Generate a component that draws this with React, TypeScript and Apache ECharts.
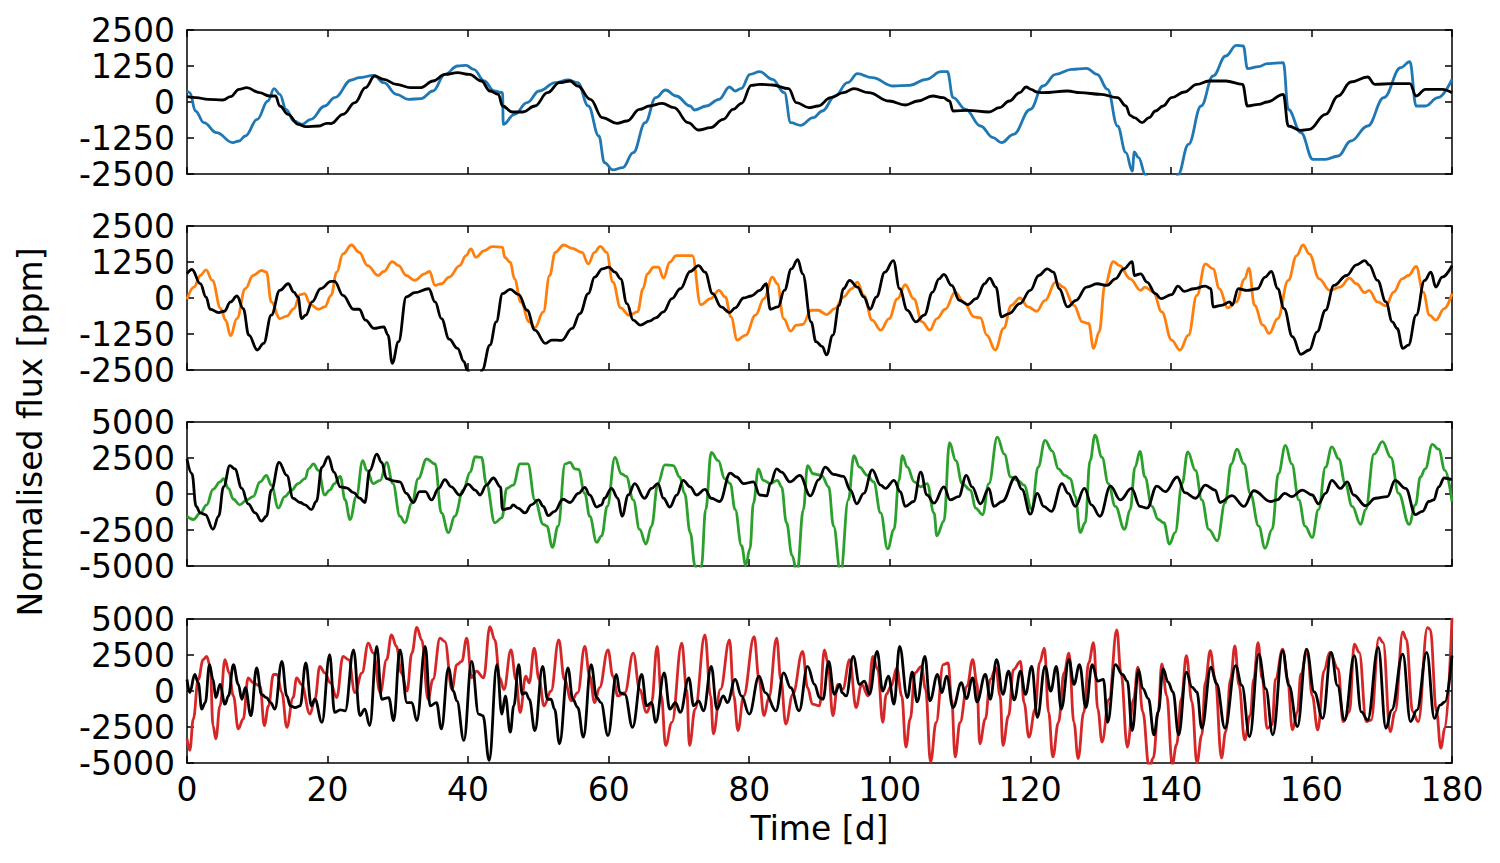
import React, { useEffect, useRef } from "react";
import * as echarts from "echarts";

type P = [number, number][];

// ---------- Panel 1 ----------
const blue1: P = [[0,382],[0.4,324],[1.2,-312],[2.4,-717],[4.2,-1064],[6.5,-1411],[7.4,-1354],[8.3,-1180],[10,-602],[11.5,35],[12.4,463],[13.2,266],[14.1,-255],[15.2,-660],[16.4,-775],[17.6,-602],[19.6,-139],[21,150],[23.4,764],[24.5,845],[26.6,926],[28,671],[29.8,266],[31.5,93],[33.3,116],[35,382],[36.7,960],[38.5,1250],[39.7,1273],[40.8,1134],[42.3,729],[43.7,382],[44.9,324],[45.0,-775],[46.6,-428],[48.4,-23],[50.1,382],[52.4,671],[54.2,764],[55.6,671],[57.1,-139],[58.6,-1180],[59.4,-2106],[60.6,-2360],[62,-2280],[63.5,-1759],[65.2,-717],[66.7,150],[68.1,417],[69.6,208],[71.6,-139],[72.2,-278],[73.9,-139],[75.7,93],[77.2,521],[78,382],[78.9,475],[80.1,960],[81.5,1053],[83.3,787],[85,324],[85.9,-717],[87.3,-810],[89.1,-544],[90.4,-312],[92.2,208],[94,671],[95.4,983],[97.5,845],[100.5,555],[102.8,579],[105.2,787],[107.3,1053],[108.2,1053],[109,150],[110.8,-255],[112.9,-833],[114.7,-1238],[115.9,-1411],[117.6,-1122],[120,-255],[121.8,555],[123.6,960],[125.9,1134],[128,1169],[129.5,960],[131,440],[132.4,-833],[133.6,-1759],[134.5,-2395],[134.8,-1736],[135.4,-1932],[136.4,-2534],[137.5,-3200],[139,-3500],[140.3,-3000],[141,-2534],[142.5,-1470],[144.3,-139],[146,902],[147.8,1597],[149.3,1967],[150.3,1944],[150.9,1157],[152.5,1227],[153.7,1331],[156,1366],[156.7,-255],[158.5,-1064],[160.2,-1990],[162,-1990],[163.8,-1875],[165.6,-1354],[168,-833],[170.3,150],[172.7,1192],[174,1400],[174.9,-139],[176.2,-139],[178,150],[180,787]];

const black1: P = [[0,185],[1.3,150],[3,93],[5.1,69],[6.2,185],[7.4,440],[8.5,498],[10.3,324],[11.7,208],[12.6,208],[13.2,-139],[14.4,-428],[15.8,-775],[16.9,-856],[18.7,-833],[19.9,-740],[20.5,-750],[22.2,-428],[23.9,-23],[25.4,498],[26.7,902],[28,787],[29.8,613],[31.8,498],[33.3,498],[35,729],[36.7,960],[38.5,1018],[40.2,960],[41.9,729],[43.1,382],[44.3,266],[44.9,-139],[46.3,-347],[47.8,-347],[49.5,-139],[51.3,324],[53,671],[54.5,729],[55.6,555],[57.4,93],[59.1,-544],[61.2,-740],[62.6,-660],[64.4,-255],[65.8,-139],[67.6,-46],[69.3,-197],[71.3,-717],[72.8,-972],[74.5,-891],[76.3,-602],[77.7,-255],[78.9,-46],[80.3,579],[81.5,613],[83.3,590],[85.6,463],[86.7,-23],[88.5,-197],[89.8,-139],[91.6,150],[93.4,324],[94.9,463],[97,324],[99.9,35],[102.2,-104],[104,35],[106.1,208],[107.6,150],[108.5,35],[109,-312],[111.1,-289],[114.1,-347],[115.6,-197],[117,35],[118.5,324],[119.4,521],[120.1,440],[120.9,347],[121.8,324],[125.3,382],[127.1,324],[130.1,266],[132.4,150],[133.6,-139],[134.2,-463],[134.8,-544],[135.9,-717],[136.9,-544],[137.8,-312],[138.9,-139],[140.1,150],[141.9,347],[143.7,613],[145.4,729],[147.8,729],[150.2,613],[150.9,-139],[152.5,-81],[153.7,0],[156,266],[156.7,-833],[158.5,-984],[159.7,-949],[162,-428],[163.8,208],[165.6,694],[168,868],[169,613],[171.5,637],[174,637],[174.9,208],[176.2,440],[178.6,440],[180,324]];

// ---------- Panel 2 ----------
const orange2: P = [[0,-46],[1,380],[1.9,782],[2.7,978],[3.6,610],[4.8,-368],[5.5,-770],[6.2,-1311],[7.1,-713],[8.3,322],[9.4,782],[10.6,955],[11.3,897],[12,-138],[13.2,-713],[14.2,-632],[15.2,-368],[16.1,115],[16.7,150],[17.6,-230],[18.7,-391],[19.6,-310],[20.5,92],[21.3,897],[22.2,1530],[23.4,1840],[24.5,1587],[25.7,1127],[27.2,782],[28,920],[29.2,1265],[30.1,1127],[31.2,782],[32.4,610],[33.8,840],[34.5,920],[35.3,437],[36.2,495],[37.3,725],[38.8,1127],[39.7,1472],[40.4,1702],[41.1,1415],[42.3,1645],[43.4,1783],[44.9,1760],[45.2,1415],[46,1242],[46.6,667],[47.5,-138],[48.7,-828],[49.5,-1035],[50.7,-483],[51.6,782],[52.4,1587],[53.6,1840],[54.8,1725],[56.2,1587],[57.1,1185],[58,1587],[58.8,1794],[59.7,1587],[60.6,552],[61.7,-345],[62.9,-598],[64.1,-483],[64.9,322],[65.5,840],[66.4,1070],[67.1,1070],[67.8,690],[68.7,1242],[69.6,1472],[71.9,1472],[73.1,-230],[74.5,-23],[75.7,265],[76.6,35],[77.4,-655],[78.3,-1460],[79.5,-1288],[80.9,-598],[82.1,-23],[83.3,725],[84,495],[84.9,-713],[85.9,-1150],[86.7,-943],[87.6,-920],[88.8,-425],[89.8,-425],[91,-575],[92.2,-368],[93.4,35],[94.6,322],[95.4,552],[96.3,92],[97.5,-770],[98.7,-1115],[99.9,-713],[101.1,-23],[102.2,460],[103.4,-23],[104.6,-828],[105.7,-1115],[106.7,-713],[107.9,-391],[109.3,207],[110.5,-138],[112,-655],[112.9,-690],[113.8,-1288],[115,-1805],[116.2,-1058],[117.3,-253],[118.5,0],[119.7,-310],[120.9,-460],[122.1,-80],[123.6,552],[124.7,380],[126.2,-253],[127.4,-828],[128.3,-885],[129,-1748],[129.8,-1173],[130.6,437],[131.8,1265],[132.7,1127],[134.2,667],[135.7,265],[136.3,380],[137.5,207],[138.7,-483],[140.1,-1460],[141.3,-1805],[142.5,-1288],[143.7,92],[144.9,1185],[146,1012],[146.9,322],[148.1,-345],[149.3,-138],[150.5,667],[151.1,1035],[151.9,-253],[153.1,-943],[154,-1230],[155.2,-713],[156.7,610],[157.9,1472],[158.8,1840],[159.7,1530],[161.1,667],[162.6,265],[164.1,380],[165.4,690],[166.4,495],[167.6,184],[168.2,265],[169.4,-138],[170.6,-276],[171.7,207],[172.9,667],[173.8,782],[174.9,1093],[175.9,207],[176.8,-598],[177.7,-770],[178.9,-368],[180,150]];

const black2: P = [[0,840],[0.7,990],[1.9,495],[2.7,35],[3.3,-391],[4.5,-506],[5.3,-460],[6.2,-138],[7.1,69],[8,-368],[8.8,-1288],[10,-1805],[10.9,-1575],[12,-598],[13.2,265],[14.4,495],[15.2,207],[15.8,35],[16.3,-713],[16.9,-598],[17.8,-138],[19,322],[20.5,575],[21,575],[22.2,92],[23.7,-391],[24.5,-391],[25.4,-770],[26.6,-1058],[28,-1000],[28.6,-1288],[29.2,-2265],[30.1,-1518],[31.2,35],[32.4,184],[34.4,322],[35.3,-138],[36.2,-713],[37.3,-1426],[38.5,-1748],[39.4,-2208],[39.9,-2500],[40.6,-2950],[41.4,-2950],[42,-2500],[43.1,-1633],[44,-828],[44.9,150],[46,299],[47.2,115],[48.4,-425],[49.5,-1115],[51,-1575],[51.9,-1460],[53.3,-1472],[54.8,-1058],[55.9,-540],[57.1,150],[58,725],[59.1,1012],[60,1070],[60.9,897],[61.7,667],[62.6,-196],[63.5,-770],[64.5,-943],[65.8,-805],[66.7,-690],[67.8,-483],[69,-23],[70.2,322],[71.6,920],[72.8,1127],[73.7,897],[74.8,150],[76,-310],[77.2,-506],[78,-345],[79.2,0],[80.3,69],[81.5,265],[82.4,495],[83,-391],[84.1,-310],[85,265],[86,1012],[86.9,1334],[87.6,840],[88.8,-828],[89.5,-1518],[90.4,-1690],[91,-1978],[91.9,-1288],[92.8,-253],[93.4,322],[94.3,610],[95.4,380],[96.3,35],[97.2,-391],[98.1,35],[99.3,897],[100.5,1300],[101.4,322],[102.5,-425],[103.7,-828],[104.9,-598],[106.1,207],[107,667],[107.7,817],[108.8,437],[109.9,-80],[111.1,-230],[112.3,-23],[113.5,495],[114.2,690],[115.1,380],[115.9,-655],[117,-540],[118.5,-196],[120,265],[121.2,782],[122.4,1012],[123.3,897],[124.1,322],[125.3,-310],[126.5,-80],[128,380],[129.5,495],[130.9,437],[132.1,667],[133.3,1012],[134.5,1265],[134.8,782],[135.7,840],[136.6,552],[137.8,150],[138.6,-23],[140.1,115],[141,414],[141.9,230],[143.3,322],[144.9,414],[145.7,322],[146,-310],[147.2,-253],[148.4,-138],[148.7,-250],[149.6,322],[150.8,265],[152.3,322],[153.4,725],[154.3,920],[155.2,322],[156.1,-368],[157.3,-1345],[158.5,-1955],[159.7,-1805],[160.8,-1173],[162,-425],[163.2,437],[165,782],[166.4,1150],[167.6,1300],[168.2,1150],[169.4,610],[170.6,-138],[171.5,-828],[172.2,-1058],[173,-1748],[173.8,-1633],[174.9,-598],[176.1,610],[177,897],[177.7,380],[178.6,725],[180,1127]];

// ---------- Panel 3 ----------
const green3: P = [[0,-1544],[0.9,-1771],[1.9,-1317],[2.8,-749],[3.7,318],[4.7,840],[5.2,1067],[5.9,386],[6.6,-363],[7.5,-749],[8.5,-409],[9.4,-182],[10.4,840],[11.3,1294],[12,613],[13,-976],[13.9,-182],[14.9,272],[15.8,726],[16.8,1067],[17.3,1748],[18,2088],[18.7,1634],[19.6,-68],[20.3,272],[21,726],[21.8,1226],[22.5,-409],[23.2,-1771],[24.1,-182],[25,2315],[25.6,1634],[26.5,726],[27.5,953],[28.4,2202],[29.3,726],[30.3,-1544],[31,-1998],[32,-636],[32.9,1067],[34.1,2429],[35.3,2088],[36.2,-1317],[37.2,-2679],[38.1,-1544],[39.3,272],[40.3,1521],[41,2588],[41.9,2542],[42.6,726],[43.8,-1998],[44.8,-1657],[45.5,386],[46.4,613],[47.4,2088],[48.5,2088],[49.5,-409],[50.7,-2111],[51.2,-2225],[52,-3700],[52.8,-2225],[53.8,2088],[54.5,2202],[55.2,1748],[55.7,1700],[56.6,45],[57.3,-1544],[58.3,-3360],[59,-2906],[59.8,-863],[60.9,2542],[61.8,1407],[62.5,1226],[63.5,-409],[64.4,-2452],[65.3,-3473],[66.1,-2225],[67,726],[68,2020],[69.2,1975],[70.1,1180],[70.8,45],[71.6,-2679],[72.3,-5000],[72.7,-5700],[73.2,-5000],[73.8,-1090],[74.6,2883],[75.6,2315],[76.5,1067],[77.3,726],[78,-1090],[78.9,-3587],[79.5,-4950],[80.1,-3813],[80.6,-636],[81.3,1748],[82,953],[83,726],[84,953],[84.6,499],[85.3,-1998],[86.1,-4268],[86.8,-5500],[87.7,-1090],[88.3,1975],[89.1,1407],[90.3,1294],[91.3,499],[92,-2225],[93,-5500],[94.1,-409],[94.9,2656],[95.7,1861],[96.8,1294],[97.7,840],[98.7,-1317],[99.7,-3813],[100.6,-2452],[101.3,953],[101.8,2656],[102.5,1861],[103.5,840],[104.4,499],[105.3,726],[106.3,-1317],[106.7,-2906],[107.7,-1884],[108.5,3564],[109.4,2315],[110.3,726],[111.5,272],[112.2,-976],[113.2,-1430],[114.1,726],[115.3,3950],[116.3,2769],[117.2,1180],[118.2,953],[119.1,613],[120.2,-1090],[121.1,1861],[122.1,3723],[123.1,2996],[124,1748],[124.9,1294],[125.7,1067],[126.4,-182],[127.1,-2679],[127.8,-1998],[128.5,2315],[129.2,4086],[130.2,2542],[131.1,726],[132.1,-863],[133.4,-2452],[134.2,-1090],[134.9,1861],[135.6,2951],[136.3,1180],[137.3,-863],[138.2,-1771],[139,-1998],[139.8,-3473],[140.6,-2679],[141.6,726],[142.4,2928],[143.5,1634],[144.4,-409],[145.4,-2452],[146.6,-3246],[147.7,-636],[148.6,2088],[149.4,3110],[150.4,2088],[151.3,45],[152.5,-2225],[153.4,-3768],[154.4,-2452],[155.3,1407],[156.3,3382],[157.2,2088],[158.2,-409],[159.1,-2225],[160.1,-3019],[161,-1090],[162,1861],[162.9,3269],[163.9,2429],[164.8,726],[165.8,-863],[167,-2111],[167.7,-1090],[168.9,2769],[170.1,3632],[171.3,2542],[172.4,45],[173.9,-2111],[174.8,-749],[175.5,1180],[176.2,1748],[177.2,3450],[178.1,3110],[179,1634],[180,-522]];

const black3: P = [[0,2429],[0.7,1407],[1.3,-863],[1.9,-1317],[2.6,-1430],[3.7,-2452],[4.5,-1544],[5.2,499],[6.1,1975],[6.8,1748],[7.8,386],[8.7,-681],[9.7,-1317],[10.6,-1884],[11.3,-1544],[12,272],[13.1,2202],[14.2,1294],[15.1,-295],[16.1,-590],[16.8,-749],[17.7,-1090],[18.4,-522],[19.2,1861],[20.1,2588],[20.9,1521],[21.8,499],[22.7,431],[23.7,91],[24.6,-295],[25.3,-590],[26,1634],[27,2769],[27.7,2202],[28.4,1067],[29.4,908],[30.3,840],[31.2,45],[32.2,-590],[33.1,159],[33.9,159],[34.8,-409],[35.8,386],[36.7,999],[37.6,499],[38.8,-68],[40,681],[41,272],[41.7,-68],[42.6,613],[43.6,1112],[44.6,499],[44.9,-1090],[46,-976],[46.4,-749],[47.1,-976],[48.1,-1317],[49,-749],[50,-409],[50.7,-863],[51.4,-1498],[52.3,-1203],[53.5,-363],[54.5,-590],[55.7,45],[56.6,454],[57.3,-68],[58.3,-908],[59,-749],[59.4,-295],[60.4,386],[61.3,-295],[61.9,-1544],[62.8,-68],[63.7,726],[65.1,-295],[66.1,386],[67,726],[67.8,-295],[68.7,-908],[69.7,-68],[70.6,953],[71.6,499],[72.5,-68],[73.7,318],[74.6,-295],[75.8,-522],[77.3,1453],[78.2,1180],[79.2,726],[80.6,840],[81.5,-68],[82.5,-136],[83,726],[83.9,1748],[84.6,1521],[85.8,840],[87.2,1294],[88.7,-136],[89.9,999],[90.8,1861],[92,1362],[93.4,1226],[94.4,272],[95.3,-681],[96.3,45],[97.5,1680],[98.7,613],[99.4,386],[100.6,953],[101.5,159],[102.2,-863],[103.4,-522],[104.4,1521],[105.3,-68],[106.3,-636],[107.7,499],[108.6,-409],[109.8,-182],[110.9,1294],[111.7,499],[112.9,-681],[114.1,386],[114.8,-863],[116,-522],[117.9,1180],[118.8,318],[120,-1400],[121,45],[121.9,-863],[123,-1203],[124.5,726],[125.4,45],[126.4,-863],[127.7,386],[128.7,-749],[129.9,-1544],[131.4,545],[132.8,-409],[134.4,386],[135.6,-863],[136.6,-976],[138,545],[139.2,159],[140.9,1180],[142,91],[143.5,-295],[144.9,613],[146.3,272],[147,-590],[148.7,-113],[150.4,-863],[151.8,227],[154.2,-522],[155.1,-409],[156.2,45],[157.2,-182],[158.7,272],[160.1,-68],[161,-681],[162,45],[162.9,953],[164.1,386],[165.1,840],[166,-68],[167.7,-817],[169.1,-295],[170.8,-182],[171.9,953],[173.4,386],[174.8,-1430],[175.8,-1203],[176.7,-522],[177.4,-409],[178.1,499],[178.9,1112],[180,999]];

// ---------- Panel 4 ----------
const red4: P = [[0,-3320],[0.4,-4122],[0.9,-1946],[1.6,801],[2.3,2175],[2.8,2404],[3.3,1717],[3.7,-2404],[4.1,-3320],[4.7,-1030],[5.4,2175],[6,1259],[6.6,-343],[7.3,-2633],[8,-1946],[8.7,916],[9.4,572],[10.4,343],[11,-2404],[11.6,-1030],[12.3,1145],[12.8,1145],[13.5,-114],[14.2,-2519],[15.1,-458],[15.6,916],[16.3,458],[17.5,-1603],[18.2,-572],[18.9,1717],[19.6,1259],[20.4,572],[21.3,-458],[22.2,2404],[23,2175],[23.9,-114],[24.9,1259],[25.8,3320],[26.5,2633],[27.5,-114],[28.4,2175],[29.1,3893],[29.8,3091],[30.5,1259],[31.3,0],[32,2633],[32.7,4420],[33.4,3550],[34.3,-572],[35,801],[36,3664],[36.7,3435],[37.7,114],[38.4,1832],[39.1,2061],[39.8,3664],[40.5,916],[41.2,1374],[42.2,916],[43.1,4466],[43.8,3550],[44.5,916],[45.1,114],[46.1,2862],[46.8,801],[47.4,-1488],[48.2,1030],[48.7,572],[49.4,2977],[50.1,801],[50.8,-1030],[51.8,0],[52.9,3550],[53.7,801],[54.7,-687],[55.6,-114],[56.6,3091],[57.3,1030],[58,-801],[58.7,229],[59.9,2862],[60.6,1030],[61.3,-343],[62.3,-114],[63.5,2633],[64.4,114],[65.4,-1488],[66.1,-801],[66.9,3091],[67.5,-343],[68.1,-3779],[69,-2175],[70.4,3320],[71.1,114],[71.5,-3779],[72.3,-1259],[73.7,3893],[74.5,-343],[74.9,-2977],[75.9,114],[77.2,3550],[77.8,-343],[78.4,-2748],[79.2,-343],[80.7,3779],[81.4,801],[82.1,-1717],[82.8,-458],[83.9,3664],[84.5,801],[85.2,-2290],[86.2,-229],[87.6,2748],[88.3,229],[89,-916],[90,-1030],[90.7,2862],[91.2,1946],[91.9,-1717],[92.6,458],[93.3,114],[94.3,2175],[95.2,-1145],[96,458],[96.9,-343],[97.6,2404],[98.3,1488],[99,-2175],[99.5,-229],[100.2,343],[101,1603],[101.7,-343],[102.3,-3893],[102.9,-1946],[103.6,1259],[104.5,1717],[105.1,114],[105.8,-4924],[106.6,-2175],[107.6,1832],[108.3,1946],[108.8,-572],[109.3,-4580],[110,-2175],[111,343],[111.8,2175],[112.4,572],[112.8,-3664],[113.6,-1946],[114.3,801],[115.1,1603],[115.7,-343],[116.1,-3779],[116.9,-1717],[117.6,1488],[118.6,2061],[119.1,-801],[119.8,-3206],[120.7,-1259],[121.3,1946],[122,2977],[122.6,-1488],[123.2,-4580],[124,-2175],[124.8,1259],[125.5,2633],[126.2,-2175],[126.8,-4694],[127.6,-1488],[128.3,1946],[129,3366],[129.6,-1259],[130.2,-3550],[131.2,-572],[132.3,4237],[132.9,1259],[133.8,-3893],[134.7,-572],[135.3,1649],[136,-1443],[136.9,-5300],[137.5,-4649],[138.2,-1443],[138.7,1878],[139.4,-298],[140.2,-5100],[140.8,-3733],[141.5,-527],[142.2,2450],[143,-756],[143.7,-5000],[144.4,-3046],[144.9,618],[145.6,2794],[146.3,847],[147.2,-4649],[147.8,-2817],[148.5,847],[149.1,3137],[149.7,389],[150.5,-3389],[151.3,-1672],[151.8,847],[152.4,3366],[153,847],[153.7,-2588],[154.4,-2359],[154.9,847],[155.9,2908],[156.6,847],[157.3,-2702],[158,-1443],[158.5,1191],[159.4,2794],[160.1,-298],[160.9,-2702],[161.8,1420],[162.6,2679],[163.8,1534],[164.5,-2130],[165.4,-1443],[166.1,3252],[166.8,2679],[167.8,-2130],[168.5,-2015],[169.6,3710],[170.2,3366],[171.2,-2817],[171.9,-1443],[173,4099],[173.5,3595],[174.4,-1443],[175.2,-2130],[176.5,4397],[176.9,4282],[177.8,-1443],[178.4,-3962],[179,-2588],[180,5084]];

const black4: P = [[0,801],[0.4,-114],[1.1,1145],[1.6,572],[2.1,-1259],[2.6,-801],[3.2,1832],[3.7,801],[4.1,-458],[4.7,458],[5.4,-916],[5.9,-343],[6.6,1832],[7.3,458],[7.8,-572],[8.3,229],[9.1,-1717],[9.9,1603],[10.6,-229],[11.3,-458],[11.9,-801],[12.5,-1259],[13.5,2061],[14.2,-343],[14.7,-1030],[15.4,-1145],[16.1,-1030],[16.9,1946],[17.7,-1030],[18.2,-572],[19.2,-2175],[20.3,2519],[21,-1488],[21.8,-1305],[22.5,-1374],[23.7,2862],[24.6,-1717],[25.3,-1259],[26,-2404],[27,3091],[27.7,-572],[28.7,-458],[29.4,-2061],[30.3,2862],[31.3,-801],[32,-801],[32.7,-2061],[33.9,3091],[34.6,-1030],[35.5,-801],[36.2,-2633],[37.2,1603],[37.9,0],[38.4,-687],[39.4,-3435],[40.5,2061],[41.5,-1603],[42.1,-1717],[43,-4809],[44.1,1832],[44.8,-1603],[45.3,-343],[46,-2862],[46.5,-1030],[47.2,1832],[47.7,-229],[48.2,-114],[48.7,-572],[49.5,-2748],[50.6,1717],[51.3,-572],[51.8,-572],[52.3,-1259],[53,-3664],[54.2,1603],[54.9,-572],[55.6,-1145],[56.4,-3206],[57.5,1832],[58.3,-458],[58.9,-801],[59.9,-3091],[61.1,1145],[61.6,-114],[62.3,-229],[63.4,-2519],[64.7,1145],[65.4,-1030],[66.1,-801],[66.7,-2175],[67.9,1259],[68.7,-1259],[69.5,-801],[70.2,-1488],[71.4,916],[72.1,-1030],[72.8,-687],[73.5,-1374],[74.6,1717],[75.4,-1259],[76.3,-343],[76.9,-801],[78,801],[78.9,-343],[80,-1603],[81.4,1030],[82.3,-114],[83.8,-1374],[84.9,1259],[85.9,229],[87.1,-1374],[88.3,1717],[89.3,458],[90,-458],[90.5,-572],[91.3,2061],[92.1,-229],[92.9,458],[93.2,-114],[93.8,-343],[94.8,2404],[95.7,458],[96.4,687],[97.1,-229],[98.2,2748],[99,0],[99.8,1030],[100.6,-916],[101.4,3091],[102.5,-458],[103.2,1305],[103.9,-756],[105,2404],[105.7,-687],[106.8,1145],[107.4,-114],[108.1,1030],[109,-1145],[110.2,572],[110.9,-527],[111.8,916],[112.4,-756],[113.6,1145],[114.3,-572],[115.2,2175],[116.1,-229],[116.9,1374],[117.7,-618],[118.6,1374],[119.3,-229],[120.2,1717],[121,-1832],[122.1,1717],[122.9,0],[123.7,1717],[124.4,-1259],[125.5,2175],[126.2,458],[127,1832],[127.9,-1145],[128.8,1832],[129.6,687],[130.4,801],[131,-2175],[132.1,1832],[133.1,1145],[133.8,687],[134.5,-2748],[135.4,1488],[136,160],[136.8,-527],[137.6,-3046],[138.2,-1443],[138.9,1534],[139.6,618],[140.3,-69],[141.1,-3046],[142.2,1305],[143,275],[143.7,-69],[144.4,-2588],[145.7,1649],[146.5,504],[147.7,-2588],[149.2,1763],[150.1,389],[151.2,-3160],[152.5,2565],[153.5,160],[154.5,-3046],[155.9,2794],[156.8,389],[158,-2473],[159.3,2908],[160.4,-69],[161.6,-1901],[162.8,2679],[163.7,389],[164.7,-2015],[166.1,2450],[167.1,-1443],[168,-2015],[169.5,3023],[170.6,-2588],[171.4,-1328],[173,2565],[174.1,-2130],[175,-1328],[176.4,2679],[177.5,-1901],[178.3,-985],[179,-756],[180,2450]];

// ---------- Axes ----------
const xMin = 0;
const xMax = 180;
const xStep = 20;
const ySmall = { min: -2500, max: 2500, step: 1250 };
const yLarge = { min: -5000, max: 5000, step: 2500 };

const xLabel = "Time [d]";
const yLabel = "Normalised flux [ppm]";

const panels = [
  { colored: blue1, color: "#1f77b4", black: black1, y: ySmall },
  { colored: orange2, color: "#ff7f0e", black: black2, y: ySmall },
  { colored: green3, color: "#2ca02c", black: black3, y: yLarge },
  { colored: red4, color: "#d62728", black: black4, y: yLarge },
];

const FONT = "DejaVu Sans";
const PANEL_TOPS = [30, 226, 422, 619];

function buildOption() {
  const grid = panels.map((_, i) => ({
    left: 187,
    top: PANEL_TOPS[i],
    width: 1265,
    height: 144,
  }));
  const line = { show: true, onZero: false, lineStyle: { color: "#000", width: 1.5 } };
  const tick = { show: true, inside: true, length: 7, lineStyle: { color: "#000", width: 1.5 } };
  const plain = (v: number) => String(v);
  const xAxis: any[] = [];
  const yAxis: any[] = [];
  const series: any[] = [];
  panels.forEach((p, i) => {
    const xc = {
      type: "value",
      gridIndex: i,
      min: xMin,
      max: xMax,
      interval: xStep,
      splitLine: { show: false },
      axisLine: line,
      axisTick: tick,
    };
    xAxis.push({
      ...xc,
      position: "bottom",
      axisLabel: {
        show: i === panels.length - 1,
        color: "#000",
        fontSize: 33,
        fontFamily: FONT,
        margin: 10,
        formatter: plain,
      },
    });
    xAxis.push({ ...xc, position: "top", axisLabel: { show: false } });
    const yc = {
      type: "value",
      gridIndex: i,
      min: p.y.min,
      max: p.y.max,
      interval: p.y.step,
      splitLine: { show: false },
      axisLine: line,
      axisTick: tick,
    };
    yAxis.push({
      ...yc,
      position: "left",
      axisLabel: {
        show: true,
        color: "#000",
        fontSize: 33,
        fontFamily: FONT,
        margin: 12,
        formatter: plain,
      },
    });
    yAxis.push({ ...yc, position: "right", axisLabel: { show: false } });

    const common = {
      type: "line",
      xAxisIndex: 2 * i,
      yAxisIndex: 2 * i,
      showSymbol: false,
      symbol: "none",
      smooth: 0.4,
      smoothMonotone: "x",
      clip: true,
      silent: true,
    };
    series.push({ ...common, data: p.colored, lineStyle: { color: p.color, width: 2.8 }, z: 2 });
    series.push({ ...common, data: p.black, lineStyle: { color: "#000", width: 2.8 }, z: 3 });
  });

  return {
    animation: false,
    backgroundColor: "#fff",
    grid,
    xAxis,
    yAxis,
    series,
    graphic: [
      {
        type: "text",
        x: 819.5,
        y: 828,
        style: {
          text: xLabel,
          fontSize: 33,
          fontFamily: FONT,
          fill: "#000",
          align: "center",
          verticalAlign: "middle",
        },
      },
      {
        type: "text",
        x: 30,
        y: 432,
        rotation: Math.PI / 2,
        style: {
          text: yLabel,
          fontSize: 33,
          fontFamily: FONT,
          fill: "#000",
          align: "center",
          verticalAlign: "middle",
        },
      },
    ],
  };
}

export default function App() {
  const ref = useRef<HTMLDivElement>(null);
  useEffect(() => {
    if (!ref.current) return;
    const chart = echarts.init(ref.current, undefined, { renderer: "svg" });
    chart.setOption(buildOption() as any);
    return () => chart.dispose();
  }, []);
  return (
    <div
      ref={ref}
      style={{ position: "fixed", left: 0, top: 0, width: 1500, height: 863, background: "#fff" }}
    />
  );
}
